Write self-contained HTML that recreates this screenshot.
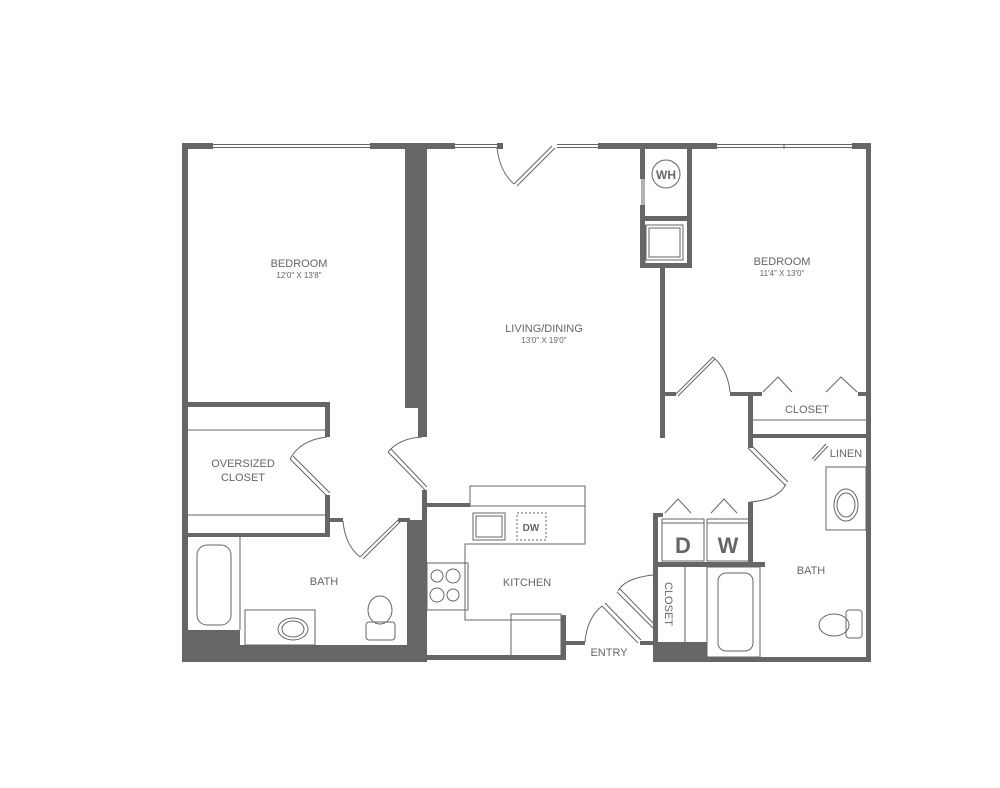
<!DOCTYPE html>
<html><head><meta charset="utf-8"><style>
html,body{margin:0;padding:0;background:#fff;}
svg{display:block}
text{font-family:"Liberation Sans",sans-serif;fill:#666;}
</style></head><body>
<svg width="1000" height="788" viewBox="0 0 1000 788" xmlns="http://www.w3.org/2000/svg">
<g fill="#666" stroke="none">
<!-- outer walls -->
<rect x="182" y="143" width="31" height="6"/>
<rect x="370" y="143" width="85" height="6"/>
<rect x="497" y="143" width="6" height="6"/>
<rect x="598" y="143" width="119" height="6"/>
<rect x="852" y="143" width="19" height="6"/>
<rect x="182" y="143" width="6" height="519"/>
<rect x="866" y="143" width="5" height="519"/>
<rect x="182" y="645" width="245" height="17"/>
<rect x="182" y="630" width="58" height="32"/>
<rect x="427" y="655" width="138" height="5"/>
<rect x="653" y="642" width="54" height="20"/>
<rect x="707" y="657" width="164" height="5"/>
<!-- central thick wall -->
<rect x="405" y="149" width="13" height="259"/>
<rect x="418" y="149" width="9" height="288"/>
<rect x="422" y="490" width="5" height="30"/>
<rect x="407" y="520" width="20" height="140"/>
<!-- closet -->
<rect x="182" y="402" width="148" height="5"/>
<rect x="325" y="402" width="5" height="35"/>
<rect x="325" y="495" width="5" height="42"/>
<rect x="182" y="533" width="148" height="4"/>
<rect x="330" y="518" width="13" height="4"/>
<rect x="398" y="518" width="12" height="4"/>
<!-- kitchen -->
<rect x="427" y="503" width="43" height="4"/>
<rect x="561" y="615" width="5" height="45"/>
<rect x="565" y="641" width="20" height="4"/>
<rect x="640" y="641" width="15" height="4"/>
<!-- closet / dw -->
<rect x="653" y="513" width="5" height="135"/>
<rect x="653" y="562" width="112" height="5"/>
<rect x="748" y="502" width="5" height="62"/>
<rect x="748" y="434" width="5" height="14"/>
<rect x="653" y="513" width="10" height="4"/>
<!-- WH -->
<rect x="640" y="149" width="5" height="30"/>
<rect x="640" y="205" width="5" height="63"/>
<rect x="687" y="149" width="5" height="119"/>
<rect x="640" y="216" width="52" height="5"/>
<rect x="640" y="263" width="52" height="5"/>
<rect x="660" y="268" width="5" height="170"/>
<rect x="660" y="392" width="16" height="4"/>
<rect x="730" y="392" width="32" height="4"/>
<rect x="858" y="392" width="10" height="4"/>
<rect x="748" y="392" width="5" height="46"/>
<rect x="748" y="434" width="120" height="4"/>
</g>
<g fill="none" stroke="#666" stroke-width="1">
<!-- windows -->
<path d="M213 144.5H370M213 147.5H370M455 144.5H497M455 147.5H497M557 144.5H598M557 147.5H598M717 144.5H852M717 147.5H852M784 144V149"/>
<line x1="642" y1="179" x2="642" y2="205"/><line x1="644" y1="179" x2="644" y2="205"/>
<line x1="645" y1="225" x2="645" y2="263"/>
<!-- closet shelves -->
<line x1="188" y1="430" x2="325" y2="430"/><line x1="188" y1="515" x2="325" y2="515"/>
<line x1="753" y1="420" x2="866" y2="420"/>
<!-- doors -->
<path d="M290 459 L327 496 M293 456 L330 493"/>
<path d="M290 459 Q300 440 327 437"/>
<path d="M388 452 L425 490 M391 449 L427 487"/>
<path d="M388 452 Q400 438 422 437"/>
<path d="M360 557 L398 520 M363 559 L400 522"/>
<path d="M343 521 Q345 545 360 557"/>
<path d="M514 184 L552 146 M517 186 L555 148"/>
<path d="M497 148 Q500 172 514 184"/>
<path d="M676 394 L713 357 M678 396 L715 359"/>
<path d="M713 357 Q728 370 730 392"/>
<path d="M748 448 L785 485 M751 445 L788 482"/>
<path d="M750 502 Q778 500 786 484"/>
<path d="M812 459 L826 444 M814 461 L828 446"/>
<path d="M617 592 L653 628 M620 589 L655 625"/>
<path d="M618 591 Q625 578 653 575"/>
<path d="M602 606 L638 643 M605 603 L641 640"/>
<path d="M585 642 Q587 618 602 606"/>
<!-- bifold chevrons -->
<path d="M763 392 L778 377 L792 392 M826 392 L841 377 L857 392"/>
<path d="M665 513 L678 499 L691 513 M711 513 L724 499 L737 513"/>
<!-- WH -->
<circle cx="666" cy="174" r="14"/>
<rect x="646" y="225" width="37" height="35"/>
<rect x="649" y="228" width="31" height="29"/>
<!-- kitchen -->
<rect x="470" y="486" width="115" height="20"/>
<path d="M427 506 H585 V544 H465 V620 H511"/>
<rect x="473" y="513" width="32" height="27"/>
<rect x="476" y="516" width="26" height="21"/>
<rect x="517" y="513" width="29" height="27" stroke-dasharray="2 2"/>
<rect x="427" y="563" width="41" height="47"/>
<circle cx="437" cy="576" r="6"/><circle cx="453" cy="576" r="7"/>
<circle cx="437" cy="595" r="7"/><circle cx="453" cy="595" r="6"/>
<rect x="511" y="614" width="50" height="44"/>
<line x1="511" y1="620" x2="561" y2="620"/>
<!-- DW -->
<rect x="662" y="519" width="42" height="42"/><line x1="662" y1="523" x2="704" y2="523"/>
<rect x="707" y="519" width="42" height="42"/><line x1="707" y1="523" x2="749" y2="523"/>
<line x1="685" y1="567" x2="685" y2="642"/>
<!-- right bath -->
<rect x="707" y="567" width="53" height="90"/>
<rect x="718" y="573" width="35" height="78" rx="8"/>
<rect x="826" y="467" width="40" height="63"/>
<ellipse cx="846" cy="505" rx="12" ry="16"/><ellipse cx="846" cy="505" rx="9" ry="12"/>
<ellipse cx="834" cy="625" rx="15" ry="11"/>
<rect x="846" y="610" width="16" height="28" rx="3"/>
<!-- left bath -->
<line x1="240" y1="537" x2="240" y2="630"/>
<rect x="197" y="545" width="34" height="80" rx="10"/>
<rect x="245" y="610" width="70" height="35"/>
<ellipse cx="293" cy="629" rx="15" ry="11"/><ellipse cx="293" cy="629" rx="11" ry="8"/>
<ellipse cx="380" cy="610" rx="12" ry="14"/>
<rect x="366" y="622" width="29" height="18" rx="3"/>
</g>
<g text-anchor="middle">
<text x="299" y="267" font-size="11">BEDROOM</text>
<text x="299" y="278" font-size="8">12′0″ X 13′8″</text>
<text x="544" y="332" font-size="11">LIVING/DINING</text>
<text x="544" y="343" font-size="8">13′0″ X 19′0″</text>
<text x="782" y="265" font-size="11">BEDROOM</text>
<text x="782" y="276" font-size="8">11′4″ X 13′0″</text>
<text x="807" y="413" font-size="11">CLOSET</text>
<text x="846" y="457" font-size="11">LINEN</text>
<text x="243" y="467" font-size="11">OVERSIZED</text>
<text x="243" y="481" font-size="11">CLOSET</text>
<text x="324" y="585" font-size="11">BATH</text>
<text x="527" y="586" font-size="11">KITCHEN</text>
<text x="609" y="656" font-size="11">ENTRY</text>
<text x="811" y="574" font-size="11">BATH</text>
<text x="666" y="179" font-size="12" font-weight="bold">WH</text>
<text x="531" y="531" font-size="10" font-weight="bold">DW</text>
<text x="683" y="553" font-size="22" font-weight="bold">D</text>
<text x="728" y="553" font-size="22" font-weight="bold">W</text>
<text x="0" y="0" font-size="11" transform="translate(665,604) rotate(90)">CLOSET</text>
</g>
</svg>
</body></html>
